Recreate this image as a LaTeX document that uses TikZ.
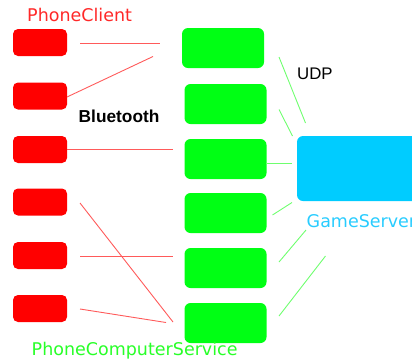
\documentclass[tikz,border=0pt]{standalone}
\usepackage{fontspec}
\setmainfont{DejaVu Sans}
\newfontfamily\arialfont{Liberation Sans}
\definecolor{phonered}{RGB}{255,0,0}
\definecolor{pcgreen}{RGB}{0,255,20}
\definecolor{serverblue}{RGB}{0,204,255}
\definecolor{redlabel}{RGB}{255,40,40}
\definecolor{greenlabel}{RGB}{40,255,40}
\definecolor{bluelabel}{RGB}{40,204,255}
\definecolor{redwire}{RGB}{255,90,90}
\definecolor{greenwire}{RGB}{110,255,110}
\tikzset{
  phone/.style={fill=phonered, rounded corners=5pt, minimum width=54pt, minimum height=27pt, inner sep=0pt},
  pcbox/.style={fill=pcgreen, rounded corners=6pt, minimum width=82pt, minimum height=40pt, inner sep=0pt},
  btwire/.style={draw=redwire, line width=0.9pt},
  udpwire/.style={draw=greenwire, line width=0.9pt},
  lbl/.style={inner sep=0pt, anchor=base west, font=\fontsize{17.5}{20}\selectfont}
}
\begin{document}
\begin{tikzpicture}[x=1pt,y=-1pt]
\useasboundingbox (0,0) rectangle (412,362);
\clip (0,0) rectangle (412,362);

% phone clients
\node[phone] (p1) at (40,42.5) {};
\node[phone] (p2) at (40,96) {};
\node[phone] (p3) at (40,149.5) {};
\node[phone] (p4) at (40,202) {};
\node[phone] (p5) at (40,255.5) {};
\node[phone] (p6) at (40,308.5) {};

% phone computer services
\node[pcbox] (s1) at (223,48) {};
\node[pcbox] (s2) at (225.5,104) {};
\node[pcbox] (s3) at (225.5,159) {};
\node[pcbox] (s4) at (225.5,213) {};
\node[pcbox] (s5) at (225.5,268) {};
\node[pcbox] (s6) at (225.5,323) {};

% game server
\node[fill=serverblue, rounded corners=6pt, minimum width=130pt, minimum height=65pt, inner sep=0pt] (gs) at (362,168.5) {};

% labels
\node[lbl, text=redlabel] (lpc) at (27,21.5) {PhoneClient};
\node[lbl, text=greenlabel] (lpcs) at (31.5,355.5) {PhoneComputerService};
\node[lbl, text=bluelabel] (lgs) at (306.5,227.5) {GameServer};
\node[inner sep=0pt, anchor=base west, font=\arialfont\bfseries\fontsize{17.3}{20}\selectfont] (lbt) at (78.5,122.5) {Bluetooth};
\node[inner sep=0pt, anchor=base west, font=\arialfont\fontsize{16.8}{20}\selectfont] (ludp) at (297,79) {UDP};

% bluetooth wire ends
\coordinate (b1a) at (80,43);   \coordinate (b1b) at (160,43);
\coordinate (b2a) at (67,97);   \coordinate (b2b) at (153,56.5);
\coordinate (b3a) at (67,149);  \coordinate (b3b) at (173,149);
\coordinate (b4a) at (80,203);  \coordinate (b4b) at (173,322);
\coordinate (b5a) at (80,256);  \coordinate (b5b) at (173,256);
\coordinate (b6a) at (80,309);  \coordinate (b6b) at (166,322.5);
\foreach \i in {1,...,6} \draw[btwire] (b\i a) -- (b\i b);

% udp wire ends
\coordinate (u1a) at (279,57);   \coordinate (u1b) at (305.5,123);
\coordinate (u2a) at (279,109.5); \coordinate (u2b) at (292.5,136);
\coordinate (u3a) at (266,163);  \coordinate (u3b) at (292,163);
\coordinate (u4a) at (272.5,215); \coordinate (u4b) at (292,202.5);
\coordinate (u5a) at (279,262);  \coordinate (u5b) at (306,230);
\coordinate (u6a) at (279,316);  \coordinate (u6b) at (325.5,256);
\foreach \i in {1,...,6} \draw[udpwire] (u\i a) -- (u\i b);
\end{tikzpicture}
\end{document}
